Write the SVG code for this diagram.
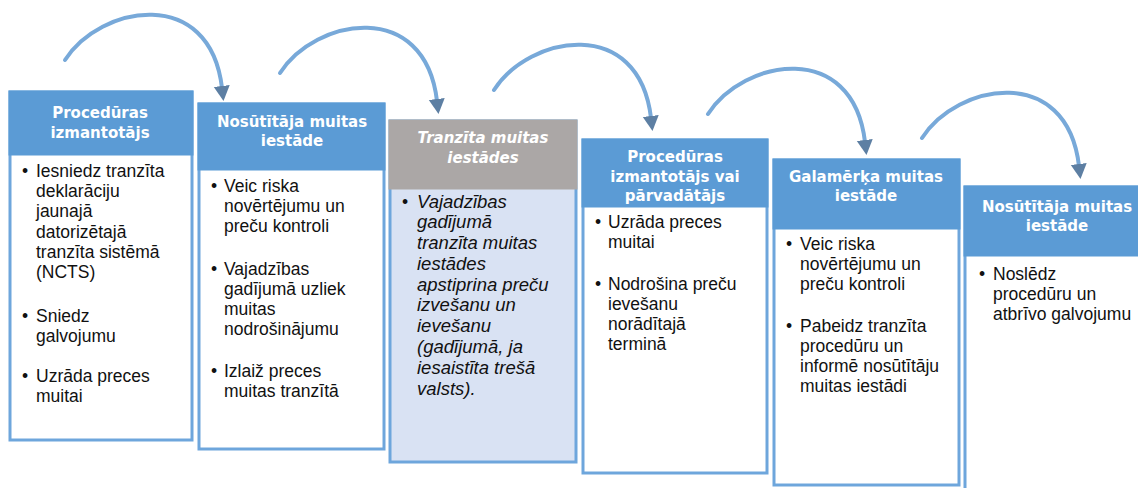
<svg xmlns="http://www.w3.org/2000/svg" width="1138" height="488" viewBox="0 0 1138 488">
<style>
.body{fill:#ffffff;stroke:#6ea6dc;stroke-width:3}
.body3{fill:#d9e2f3;stroke:#6ea6dc;stroke-width:3}
.hdr{fill:#5b9bd5}
.hdr3{fill:#aba7a6}
.ht{font-family:"DejaVu Sans",sans-serif;font-weight:bold;font-size:15px;fill:#ffffff;text-anchor:middle}
.bt{font-family:"Liberation Sans",Arial,sans-serif;font-size:17.5px;fill:#111111}
.it{font-style:italic}
.b3{font-size:18.5px}
.arc{fill:none;stroke:#78a9d9;stroke-width:4;stroke-linecap:round}
</style>
<defs>
<marker id="ah" markerUnits="userSpaceOnUse" markerWidth="20" markerHeight="20" refX="2" refY="8" orient="auto" viewBox="0 0 20 16">
<path d="M0,0 L15,8 L0,16 Z" fill="#5d7fa3"/>
</marker>
</defs>
<g id="connectors">
<path class="arc" transform="translate(65,60)" d="M0,0 C35,-55 145,-75 157,28" marker-end="url(#ah)"/>
<path class="arc" transform="translate(280,73)" d="M0,0 C35,-55 145,-75 157,28" marker-end="url(#ah)"/>
<path class="arc" transform="translate(494,90)" d="M0,0 C35,-55 145,-75 157,28" marker-end="url(#ah)"/>
<path class="arc" transform="translate(708,114)" d="M0,0 C35,-55 145,-75 157,28" marker-end="url(#ah)"/>
<path class="arc" transform="translate(922,138)" d="M0,0 C35,-55 145,-75 157,28" marker-end="url(#ah)"/>
</g>
<g id="node1">
<rect class="body" x="10" y="92" width="182" height="348"/>
<rect class="hdr" x="8.5" y="90.5" width="185" height="65"/>
<text class="ht" x="100" y="118">Procedūras</text>
<text class="ht" x="100" y="138">izmantotājs</text>
<text class="bt" x="22" y="177">•</text>
<text class="bt" x="36" y="177">Iesniedz tranzīta</text>
<text class="bt" x="36" y="197">deklarāciju</text>
<text class="bt" x="36" y="217">jaunajā</text>
<text class="bt" x="36" y="238">datorizētajā</text>
<text class="bt" x="36" y="258">tranzīta sistēmā</text>
<text class="bt" x="36" y="278">(NCTS)</text>
<text class="bt" x="22" y="322">•</text>
<text class="bt" x="36" y="322">Sniedz</text>
<text class="bt" x="36" y="342">galvojumu</text>
<text class="bt" x="22" y="382">•</text>
<text class="bt" x="36" y="382">Uzrāda preces</text>
<text class="bt" x="36" y="402">muitai</text>
</g>
<g id="node2">
<rect class="body" x="199" y="104" width="185" height="345"/>
<rect class="hdr" x="197.5" y="102.5" width="188" height="68"/>
<text class="ht" x="292" y="127">Nosūtītāja muitas</text>
<text class="ht" x="292" y="146">iestāde</text>
<text class="bt" x="211" y="192">•</text>
<text class="bt" x="224" y="192">Veic riska</text>
<text class="bt" x="224" y="212">novērtējumu un</text>
<text class="bt" x="224" y="232">preču kontroli</text>
<text class="bt" x="211" y="275">•</text>
<text class="bt" x="224" y="275">Vajadzības</text>
<text class="bt" x="224" y="295">gadījumā uzliek</text>
<text class="bt" x="224" y="315">muitas</text>
<text class="bt" x="224" y="335">nodrošinājumu</text>
<text class="bt" x="211" y="377">•</text>
<text class="bt" x="224" y="377">Izlaiž preces</text>
<text class="bt" x="224" y="397">muitas tranzītā</text>
</g>
<g id="node3">
<rect class="body3" x="390" y="121" width="186" height="341"/>
<rect class="hdr3" x="388.5" y="119.5" width="189" height="70"/>
<text class="ht it" x="483" y="143">Tranzīta muitas</text>
<text class="ht it" x="483" y="163">iestādes</text>
<text class="bt" x="402" y="208">•</text>
<g class="bt it b3">
<text x="417" y="208">Vajadzības</text>
<text x="417" y="228">gadījumā</text>
<text x="417" y="249">tranzīta muitas</text>
<text x="417" y="270">iestādes</text>
<text x="417" y="291">apstiprina preču</text>
<text x="417" y="311">izvešanu un</text>
<text x="417" y="332">ievešanu</text>
<text x="417" y="353">(gadījumā, ja</text>
<text x="417" y="374">iesaistīta trešā</text>
<text x="417" y="395">valsts).</text>
</g>
</g>
<g id="node4">
<rect class="body" x="583" y="140" width="184" height="333"/>
<rect class="hdr" x="581.5" y="138.5" width="187" height="69"/>
<text class="ht" x="675" y="162">Procedūras</text>
<text class="ht" x="675" y="182">izmantotājs vai</text>
<text class="ht" x="675" y="201">pārvadātājs</text>
<text class="bt" x="595" y="228">•</text>
<text class="bt" x="608" y="228">Uzrāda preces</text>
<text class="bt" x="608" y="248">muitai</text>
<text class="bt" x="595" y="290">•</text>
<text class="bt" x="608" y="290">Nodrošina preču</text>
<text class="bt" x="608" y="310">ievešanu</text>
<text class="bt" x="608" y="330">norādītajā</text>
<text class="bt" x="608" y="350">terminā</text>
</g>
<g id="node5">
<rect class="body" x="774" y="160" width="185" height="325"/>
<rect class="hdr" x="772.5" y="158.5" width="188" height="71"/>
<text class="ht" x="866" y="182">Galamērķa muitas</text>
<text class="ht" x="866" y="201">iestāde</text>
<text class="bt" x="786" y="250">•</text>
<text class="bt" x="800" y="250">Veic riska</text>
<text class="bt" x="800" y="270">novērtējumu un</text>
<text class="bt" x="800" y="290">preču kontroli</text>
<text class="bt" x="786" y="332">•</text>
<text class="bt" x="800" y="332">Pabeidz tranzīta</text>
<text class="bt" x="800" y="352">procedūru un</text>
<text class="bt" x="800" y="372">informē nosūtītāju</text>
<text class="bt" x="800" y="392">muitas iestādi</text>
</g>
<g id="node6">
<rect class="body" x="965" y="187" width="190" height="320"/>
<rect class="hdr" x="963.5" y="185.5" width="193" height="71"/>
<text class="ht" x="1057" y="212">Nosūtītāja muitas</text>
<text class="ht" x="1057" y="231">iestāde</text>
<text class="bt" x="979" y="280">•</text>
<text class="bt" x="993" y="280">Noslēdz</text>
<text class="bt" x="993" y="300">procedūru un</text>
<text class="bt" x="993" y="320">atbrīvo galvojumu</text>
</g>
</svg>
